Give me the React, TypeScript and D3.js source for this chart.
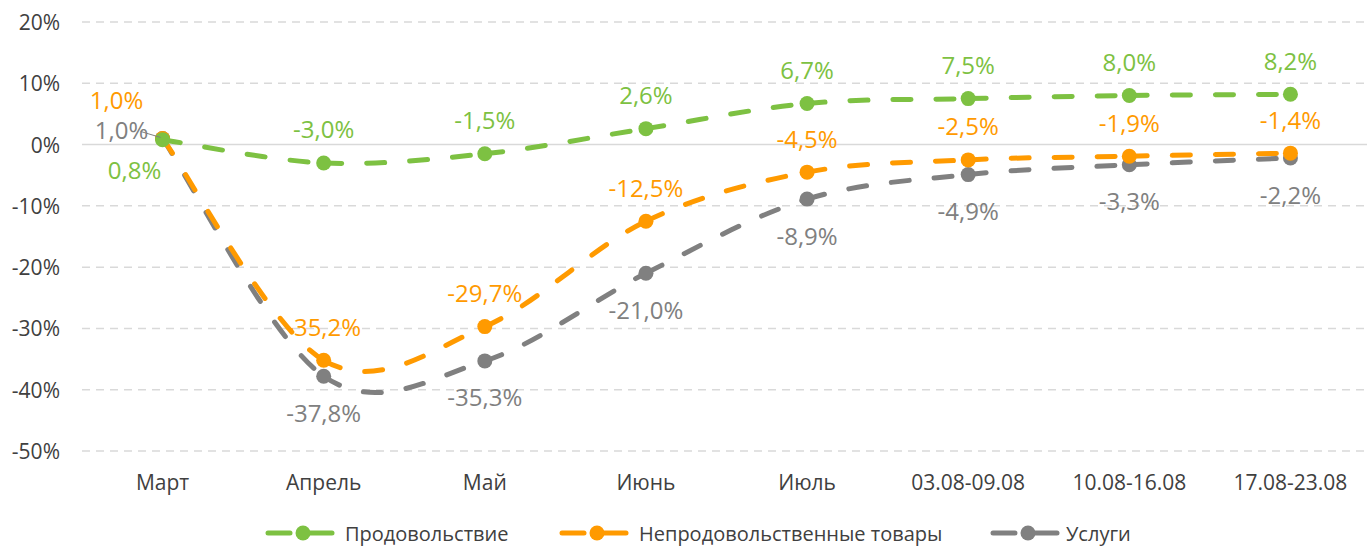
import * as d3 from "d3";

const categories = ["Март", "Апрель", "Май", "Июнь", "Июль", "03.08-09.08", "10.08-16.08", "17.08-23.08"];
const food = [0.8, -3.0, -1.5, 2.6, 6.7, 7.5, 8.0, 8.2];
const nonFood = [1.0, -35.2, -29.7, -12.5, -4.5, -2.5, -1.9, -1.4];
const services = [1.0, -37.8, -35.3, -21.0, -8.9, -4.9, -3.3, -2.2];
const yTicks = [20, 10, 0, -10, -20, -30, -40, -50];
const seriesNames = ["Продовольствие", "Непродовольственные товары", "Услуги"];

const W = 1367;
const H = 546;
const FONT = "'Open Sans', sans-serif";

const x = d3.scalePoint<string>().domain(categories).range([82, 1371]).padding(0.5);
const y = d3.scaleLinear().domain([-50, 20]).range([451, 22]);

const fmt = (v: number) => v.toFixed(1).replace(".", ",") + "%";

type Series = {
  name: string;
  values: number[];
  color: string;
  dy: number; // default label offset
  first: [number, number]; // label offset for first point
};

const series: Series[] = [
  { name: seriesNames[0], values: food, color: "#7dc142", dy: -34, first: [-28, 30] },
  { name: seriesNames[1], values: nonFood, color: "#ff9a00", dy: -34, first: [-46, -39] },
  { name: seriesNames[2], values: services, color: "#808080", dy: 36, first: [-41, -9] },
];

// Excel-like smooth line, one bezier per segment so the dash restarts at each marker
function segments(values: number[]) {
  const pts = values.map((v, i) => [x(categories[i])!, y(v)] as [number, number]);
  const n = pts.length;
  const out: string[] = [];
  for (let i = 0; i < n - 1; i++) {
    const p0 = pts[Math.max(i - 1, 0)];
    const p1 = pts[i];
    const p2 = pts[i + 1];
    const p3 = pts[Math.min(i + 2, n - 1)];
    const c1 = [p1[0] + (p2[0] - p0[0]) / 6, p1[1] + (p2[1] - p0[1]) / 6];
    const c2 = [p2[0] - (p3[0] - p1[0]) / 6, p2[1] - (p3[1] - p1[1]) / 6];
    const p = d3.path();
    p.moveTo(p1[0], p1[1]);
    p.bezierCurveTo(c1[0], c1[1], c2[0], c2[1], p2[0], p2[1]);
    out.push(p.toString());
  }
  return out;
}

const legendItems = [
  { x: 268, textX: 345 },
  { x: 562, textX: 639 },
  { x: 993, textX: 1066 },
];
const LEG_Y = 533;

export default function App() {
  return (
    <svg width={W} height={H} style={{ position: "absolute", left: 0, top: 0, background: "#fff" }} fontFamily={FONT}>
      {/* grid */}
      {yTicks.map((t) => (
        <g key={t}>
          <line
            x1={82}
            x2={1367}
            y1={y(t)}
            y2={y(t)}
            stroke="#d9d9d9"
            strokeWidth={1.5}
            strokeDasharray={t === 0 ? undefined : "8,6"}
          />
          <text x={60} y={y(t)} textAnchor="end" dominantBaseline="central" fontSize={21} fill="#404040">
            {t + "%"}
          </text>
        </g>
      ))}
      {categories.map((c) => (
        <text key={c} x={x(c)} y={482} textAnchor="middle" dominantBaseline="central" fontSize={21} fill="#404040">
          {c}
        </text>
      ))}

      {/* lines */}
      {[...series].reverse().map((s) => (
        <g key={s.name}>
          {segments(s.values).map((d, i) => (
            <path
              key={i}
              d={d}
              fill="none"
              stroke={s.color}
              strokeWidth={5}
              strokeLinecap="round"
              strokeDasharray="18,25"
            />
          ))}
          {s.values.map((v, i) => (
            <circle key={i} cx={x(categories[i])} cy={y(v)} r={7.5} fill={s.color} />
          ))}
        </g>
      ))}

      {/* leader line for services first label */}
      <line
        x1={x(categories[0])! - 22}
        y1={y(services[0]) - 7}
        x2={x(categories[0])! - 2}
        y2={y(services[0]) - 1}
        stroke="#808080"
        strokeWidth={1}
      />

      {/* data labels */}
      {series.map((s) =>
        s.values.map((v, i) => {
          const [dx, dy] = i === 0 ? s.first : [0, s.dy];
          return (
            <text
              key={s.name + i}
              x={x(categories[i])! + dx}
              y={y(v) + dy}
              textAnchor="middle"
              dominantBaseline="central"
              fontSize={24}
              fill={s.color}
            >
              {fmt(v)}
            </text>
          );
        })
      )}

      {/* legend */}
      {series.map((s, i) => (
        <g key={s.name}>
          <line
            x1={legendItems[i].x}
            x2={legendItems[i].x + 22}
            y1={LEG_Y}
            y2={LEG_Y}
            stroke={s.color}
            strokeWidth={5}
            strokeLinecap="round"
          />
          <line
            x1={legendItems[i].x + 35}
            x2={legendItems[i].x + 64}
            y1={LEG_Y}
            y2={LEG_Y}
            stroke={s.color}
            strokeWidth={5}
            strokeLinecap="round"
          />
          <circle cx={legendItems[i].x + 35} cy={LEG_Y} r={7.5} fill={s.color} />
          <text x={legendItems[i].textX} y={LEG_Y} dominantBaseline="central" fontSize={20} fill="#404040">
            {s.name}
          </text>
        </g>
      ))}
    </svg>
  );
}
